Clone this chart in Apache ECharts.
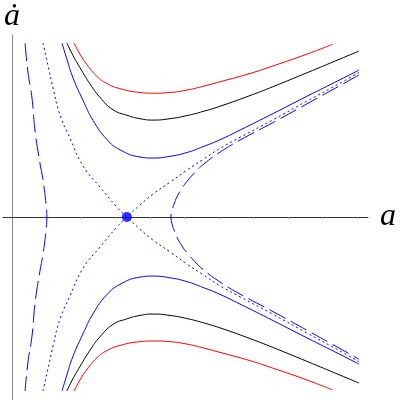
<!DOCTYPE html>
<html>
<head>
<meta charset="utf-8">
<script src="https://cdn.jsdelivr.net/npm/echarts@6.0.0/dist/echarts.min.js"></script>
<style>
  html, body { margin: 0; padding: 0; background: #fff; }
  #chart { width: 400px; height: 400px; }
</style>
</head>
<body>
<div id="chart"></div>
<script>
// upper branches, [a, adot]. lower half is the mirror image
const redTop = [[1.80, 5.04], [1.97, 4.72], [2.17, 4.42], [2.46, 4.08], [2.75, 3.87], [3.13, 3.72], [3.71, 3.61], [4.09, 3.59], [4.58, 3.61], [5.07, 3.68], [5.54, 3.79], [6.03, 3.92], [6.90, 4.16], [7.57, 4.38], [8.55, 4.72], [9.30, 5.01]]
const blackTop = [[1.59, 5.04], [1.77, 4.68], [1.97, 4.33], [2.26, 3.86], [2.55, 3.47], [2.93, 3.11], [3.33, 2.95], [3.71, 2.85], [4.09, 2.81], [4.58, 2.85], [5.07, 2.94], [5.54, 3.06], [6.03, 3.21], [6.90, 3.52], [7.57, 3.78], [8.55, 4.18], [9.51, 4.58], [10.06, 4.81]]
const blueTop = [[1.45, 5.04], [1.59, 4.58], [1.77, 4.03], [2.06, 3.38], [2.35, 2.80], [2.75, 2.25], [3.13, 1.95], [3.71, 1.74], [4.09, 1.71], [4.58, 1.76], [5.07, 1.87], [5.54, 2.04], [6.03, 2.24], [6.61, 2.52], [7.57, 3.00], [8.55, 3.50], [9.51, 3.98], [10.06, 4.26]]
// separatrix through the static point
const sepLeftTop = [[0.90, 5.04], [1.04, 4.41], [1.19, 3.74], [1.39, 2.96], [1.68, 2.29], [2.06, 1.48], [2.55, 0.87], [3.04, 0.29], [3.33, 0]]
const sepRightTop = [[3.33, 0], [3.71, 0.35], [4.09, 0.67], [4.58, 1.01], [5.07, 1.36], [5.54, 1.67], [6.03, 1.99], [6.61, 2.31], [7.57, 2.82], [8.55, 3.36], [9.51, 3.88], [10.06, 4.19]]
// recollapse and bounce branches
const dashLeftTop = [[0.38, 5.04], [0.46, 4.23], [0.58, 3.45], [0.67, 2.49], [0.81, 1.57], [0.90, 1.07], [0.99, 0.35], [1.01, 0]]
const dashRightTop = [[4.61, 0], [4.64, 0.20], [4.70, 0.38], [4.78, 0.58], [4.93, 0.84], [5.07, 1.03], [5.30, 1.29], [5.54, 1.52], [6.03, 1.88], [6.61, 2.23], [7.57, 2.74], [8.55, 3.28], [9.51, 3.81], [10.06, 4.12]]
const staticPoint = [[3.33, 0]]
const aTicks = [1, 2, 3, 4, 5, 6, 7, 8, 9, 10]

const flip = pts => pts.map(p => [p[0], -p[1]])

function curve(data, color, type) {
  return {
    type: 'line',
    data: data,
    smooth: true,
    showSymbol: false,
    silent: true,
    lineStyle: { width: 1, color: color, type: type || 'solid' }
  }
}

const BLUE = '#0000ff'
const DASH = [18, 6]
const DOT = [2, 3]

const option = {
  animation: false,
  backgroundColor: '#fff',
  grid: { left: 3, top: 35, width: 365, height: 365 },
  xAxis: {
    type: 'value',
    min: -0.26,
    max: 10.32,
    name: 'a',
    nameLocation: 'end',
    nameGap: 12,
    nameTextStyle: { fontFamily: 'Liberation Serif', fontStyle: 'italic', fontSize: 32, color: '#000' },
    axisLine: { onZero: true, lineStyle: { color: '#333', width: 1 } },
    axisTick: { show: true, customValues: aTicks, length: 2, lineStyle: { color: '#aaa' } },
    axisLabel: { show: false },
    splitLine: { show: false }
  },
  yAxis: {
    type: 'value',
    min: -5.3,
    max: 5.275,
    name: 'ȧ',
    nameLocation: 'end',
    nameGap: 2,
    nameTextStyle: { fontFamily: 'Liberation Serif', fontStyle: 'italic', fontSize: 32, color: '#000' },
    axisLine: { onZero: true, lineStyle: { color: '#888', width: 1 } },
    axisTick: { show: false },
    axisLabel: { show: false },
    splitLine: { show: false }
  },
  series: [
    curve(redTop, '#ff0000'),
    curve(flip(redTop), '#ff0000'),
    curve(blackTop, '#000000'),
    curve(flip(blackTop), '#000000'),
    curve(blueTop, BLUE),
    curve(flip(blueTop), BLUE),
    curve(sepLeftTop.concat(flip(sepRightTop).slice(1)), BLUE, DOT),
    curve(flip(sepLeftTop).concat(sepRightTop.slice(1)), BLUE, DOT),
    curve(dashLeftTop.concat(flip(dashLeftTop).reverse().slice(1)), BLUE, DASH),
    curve(dashRightTop.slice().reverse().concat(flip(dashRightTop).slice(1)), BLUE, DASH),
    {
      type: 'scatter',
      data: staticPoint,
      symbolSize: 10,
      silent: true,
      itemStyle: { color: BLUE },
      z: 5
    }
  ]
}

const myChart = echarts.init(document.getElementById('chart'))
myChart.setOption(option)
</script>
</body>
</html>
